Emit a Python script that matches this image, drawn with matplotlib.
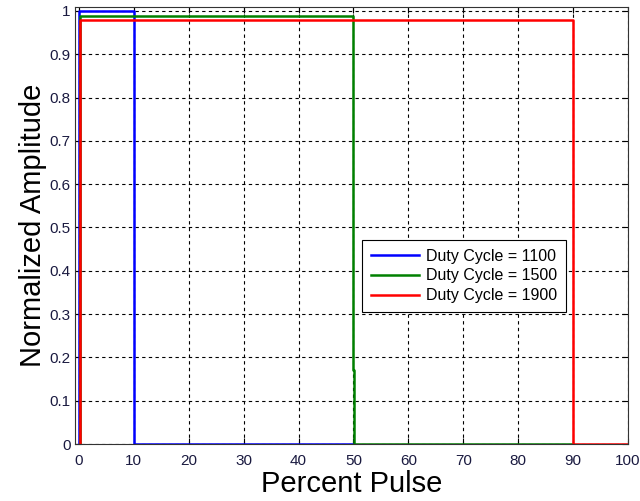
import matplotlib.pyplot as plt
import numpy as np

plt.rcParams['font.family'] = ['Liberation Sans', 'DejaVu Sans']

# data: step-shaped pulses
x_1100 = [0, 0, 10, 10, 50]
y_1100 = [0, 1.0, 1.0, 0, 0]
x_1500 = [0.2, 0.2, 50, 50, 50.15, 50.15, 90]
y_1500 = [0, 0.988, 0.988, 0.17, 0.17, 0, 0]
x_1900 = [0.3, 0.3, 90, 90, 100]
y_1900 = [0, 0.98, 0.98, 0, 0]
labels = ["Duty Cycle = 1100", "Duty Cycle = 1500", "Duty Cycle = 1900"]

fig = plt.figure(figsize=(6.4, 5.01), dpi=100)
ax = fig.add_axes([75 / 640, 1 - 444 / 501, 553 / 640, 437 / 501])

ax.plot(x_1100, y_1100, color="#0000ff", lw=1.8, label=labels[0])
ax.plot(x_1500, y_1500, color="#008000", lw=1.8, label=labels[1])
ax.plot(x_1900, y_1900, color="#ff0000", lw=1.8, label=labels[2])

ax.set_xlim(-0.7, 100)
ax.set_ylim(0, 1.009)
ax.set_xticks(np.arange(0, 101, 10))
ax.set_yticks(np.arange(0, 1.01, 0.1))
ax.set_yticklabels(["0", "0.1", "0.2", "0.3", "0.4", "0.5", "0.6", "0.7", "0.8", "0.9", "1"])
ax.tick_params(direction="in", top=True, right=True, labelsize=11, length=4, colors="black")
ax.tick_params(axis="x", pad=7)
ax.tick_params(axis="y", pad=3)
for lab in ax.get_xticklabels() + ax.get_yticklabels():
    lab.set_color("#1a1a40")
for sp in ax.spines.values():
    sp.set_color("#333333")

ax.grid(True, color="black", linestyle=(0, (3, 3)), lw=0.8)
ax.set_xlabel("Percent Pulse", fontsize=21, labelpad=2)
ax.set_ylabel("Normalized Amplitude", fontsize=21, labelpad=2)

leg = ax.legend(loc="upper left", bbox_to_anchor=(0.519, 0.467), fontsize=11.5,
                frameon=True, fancybox=False, edgecolor="black", framealpha=1,
                handlelength=3.0, handletextpad=0.45, borderpad=0.55,
                labelspacing=0.3, borderaxespad=0)
leg.get_frame().set_linewidth(0.8)

fig.savefig("out.png", dpi=100)
